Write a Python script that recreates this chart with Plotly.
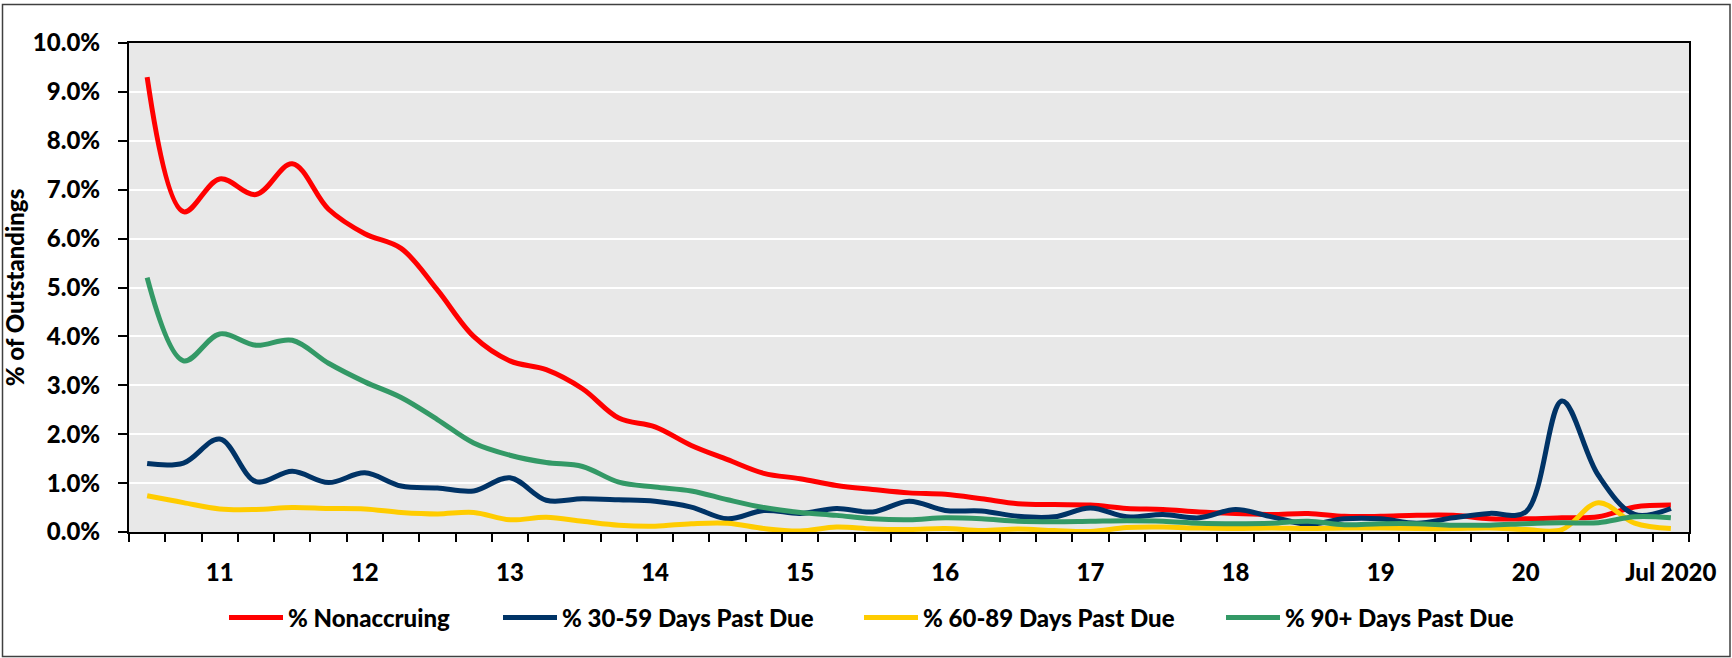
import plotly.graph_objects as go

# ---- data (percent of outstandings, quarterly, 43 periods) ----
period_index = list(range(43))
tick_positions = [2, 6, 10, 14, 18, 22, 26, 30, 34, 38, 42]
tick_labels = ["11", "12", "13", "14", "15", "16", "17", "18", "19", "20", "Jul 2020"]

nonaccruing = [9.30, 6.55, 7.22, 6.90, 7.53, 6.60, 6.10, 5.80, 4.95, 4.00,
               3.50, 3.32, 2.93, 2.33, 2.15, 1.77, 1.48, 1.20, 1.09, 0.95,
               0.87, 0.80, 0.77, 0.68, 0.58, 0.56, 0.55, 0.48, 0.46, 0.41,
               0.38, 0.36, 0.38, 0.32, 0.32, 0.34, 0.34, 0.27, 0.27, 0.29,
               0.31, 0.51, 0.55]
past_due_30_59 = [1.40, 1.41, 1.90, 1.03, 1.24, 1.01, 1.21, 0.94, 0.90, 0.84,
                  1.11, 0.65, 0.68, 0.66, 0.63, 0.51, 0.27, 0.44, 0.38, 0.48,
                  0.41, 0.63, 0.44, 0.43, 0.32, 0.31, 0.49, 0.31, 0.36, 0.29,
                  0.46, 0.31, 0.16, 0.27, 0.27, 0.18, 0.29, 0.38, 0.41, 2.68,
                  1.16, 0.36, 0.48]
past_due_60_89 = [0.74, 0.60, 0.47, 0.46, 0.50, 0.48, 0.47, 0.40, 0.37, 0.40,
                  0.25, 0.30, 0.22, 0.14, 0.12, 0.17, 0.18, 0.07, 0.02, 0.10,
                  0.06, 0.05, 0.07, 0.03, 0.06, 0.03, 0.01, 0.09, 0.10, 0.08,
                  0.07, 0.08, 0.07, 0.08, 0.08, 0.07, 0.07, 0.08, 0.05, 0.05,
                  0.60, 0.18, 0.07]
past_due_90 = [5.20, 3.50, 4.05, 3.82, 3.92, 3.45, 3.07, 2.75, 2.30, 1.82,
               1.57, 1.42, 1.34, 1.02, 0.92, 0.84, 0.66, 0.50, 0.40, 0.34,
               0.27, 0.25, 0.29, 0.27, 0.22, 0.21, 0.22, 0.23, 0.22, 0.18,
               0.17, 0.18, 0.22, 0.15, 0.17, 0.17, 0.14, 0.14, 0.17, 0.19,
               0.19, 0.31, 0.29]

series_names = ["% Nonaccruing", "% 30-59 Days Past Due", "% 60-89 Days Past Due", "% 90+ Days Past Due"]
series_values = [nonaccruing, past_due_30_59, past_due_60_89, past_due_90]
series_colors = ["#FF0000", "#003366", "#FFCC00", "#339966"]

# ---- geometry (pixels) ----
W, H = 1732, 658
ML, MR, MT, MB = 129, 43, 43, 126
PW, PH = W - ML - MR, H - MT - MB

def px_x(x):
    return (x - ML) / PW

def px_y(y):  # y measured from top of figure
    return (H - y - MB) / PH

FONT = "Lato"
FSIZE = 24
FWEIGHT = 900
fig = go.Figure()
legend_px = [224, 498, 859, 1221]
for i, (name, vals, col) in enumerate(zip(series_names, series_values, series_colors)):
    lg = "legend" if i == 0 else f"legend{i+1}"
    fig.add_trace(go.Scatter(
        x=period_index, y=vals, name=name, mode="lines",
        line=dict(color=col, width=5, shape="spline", smoothing=1.0),
        legend=lg, hoverinfo="skip"))

textfont = dict(family=FONT, size=FSIZE, color="black", weight=FWEIGHT)
legend_common = dict(orientation="h", xanchor="left", yanchor="middle",
                     itemwidth=54, bgcolor="rgba(0,0,0,0)", borderwidth=0,
                     font=textfont)
layout_legends = {}
for i, lx in enumerate(legend_px):
    key = "legend" if i == 0 else f"legend{i+1}"
    layout_legends[key] = dict(legend_common, x=px_x(lx), y=px_y(618))

fig.update_layout(
    width=W, height=H,
    margin=dict(l=ML, r=MR, t=MT, b=MB),
    paper_bgcolor="white", plot_bgcolor="#E8E8E8",
    showlegend=True,
    font=textfont,
    xaxis=dict(
        range=[-0.5, 42.5], tickmode="array", tickvals=tick_positions, ticktext=tick_labels,
        ticks="outside", ticklen=0, ticklabelstandoff=18,
        minor=dict(tickmode="linear", tick0=0.5, dtick=1, ticks="outside", ticklen=8,
                   tickwidth=1.5, tickcolor="black", showgrid=False),
        showgrid=False, zeroline=False, showline=True, linecolor="black", linewidth=2, mirror=True,
        tickfont=textfont,
    ),
    yaxis=dict(
        range=[0, 10], tickmode="linear", tick0=0, dtick=1, ticksuffix="%", tickformat=".1f",
        ticks="outside", ticklen=9, tickwidth=2, tickcolor="black", ticklabelstandoff=13,
        showgrid=True, gridcolor="white", gridwidth=2, zeroline=False,
        showline=True, linecolor="black", linewidth=2, mirror=True,
        tickfont=textfont,
        title=dict(text="% of Outstandings", standoff=4, font=textfont),
    ),
    shapes=[dict(type="rect", xref="paper", yref="paper",
                 x0=px_x(2.5), x1=px_x(1730), y0=px_y(656.5), y1=px_y(4.5),
                 line=dict(color="#404040", width=1.5), fillcolor="rgba(0,0,0,0)", layer="below")],
    **layout_legends,
)

fig.write_html("out.html")
